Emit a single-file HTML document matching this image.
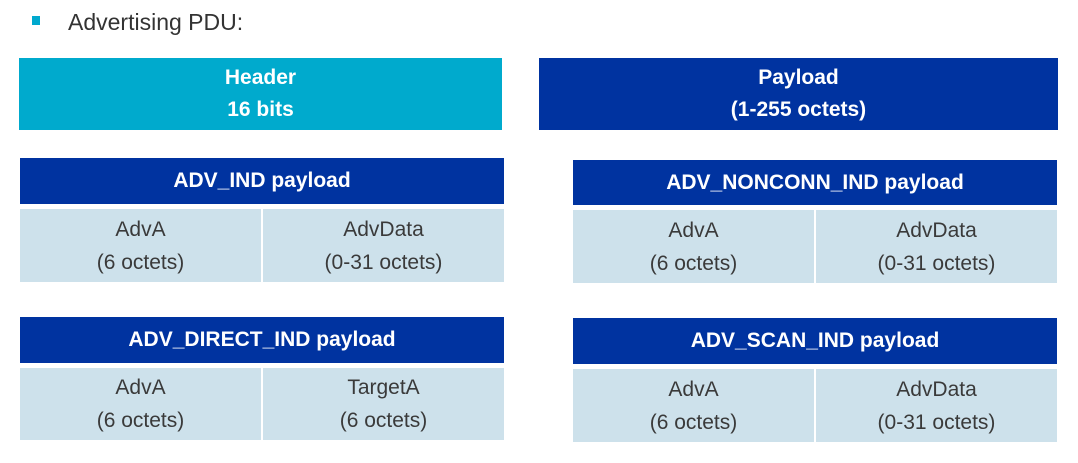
<!DOCTYPE html>
<html><head><meta charset="utf-8"><style>
body{margin:0;width:1078px;height:463px;background:#fff;font-family:"Liberation Sans",sans-serif;position:relative;overflow:hidden}
.a{position:absolute;box-sizing:border-box;display:flex;align-items:center;justify-content:center;text-align:center}
.h{background:#0033a0;color:#fff;font-weight:bold;font-size:21px}
.c{background:#cde1eb;color:#3a3a3a;font-size:21px;line-height:33px}
.t{color:#fff;font-weight:bold;font-size:21px;line-height:32px}
</style></head><body>
<div style="position:absolute;left:32px;top:16px;width:8px;height:9px;background:#00a9ce"></div>
<div style="position:absolute;left:68px;top:9px;font-size:23px;color:#333">Advertising PDU:</div>
<div class="a t" style="left:19px;top:58px;width:483px;height:72px;background:#00aacd">Header<br>16 bits</div>
<div class="a t" style="left:539px;top:58px;width:519px;height:72px;background:#0033a0">Payload<br>(1-255 octets)</div>

<div class="a h" style="left:20px;top:158px;width:484px;height:46px">ADV_IND payload</div>
<div class="a c" style="left:20px;top:209px;width:241px;height:73px">AdvA<br>(6 octets)</div>
<div class="a c" style="left:263px;top:209px;width:241px;height:73px">AdvData<br>(0-31 octets)</div>

<div class="a h" style="left:573px;top:160px;width:484px;height:45px">ADV_NONCONN_IND payload</div>
<div class="a c" style="left:573px;top:210px;width:241px;height:73px">AdvA<br>(6 octets)</div>
<div class="a c" style="left:816px;top:210px;width:241px;height:73px">AdvData<br>(0-31 octets)</div>

<div class="a h" style="left:20px;top:317px;width:484px;height:46px">ADV_DIRECT_IND payload</div>
<div class="a c" style="left:20px;top:368px;width:241px;height:72px">AdvA<br>(6 octets)</div>
<div class="a c" style="left:263px;top:368px;width:241px;height:72px">TargetA<br>(6 octets)</div>

<div class="a h" style="left:573px;top:318px;width:484px;height:46px">ADV_SCAN_IND payload</div>
<div class="a c" style="left:573px;top:369px;width:241px;height:73px">AdvA<br>(6 octets)</div>
<div class="a c" style="left:816px;top:369px;width:241px;height:73px">AdvData<br>(0-31 octets)</div>
</body></html>
